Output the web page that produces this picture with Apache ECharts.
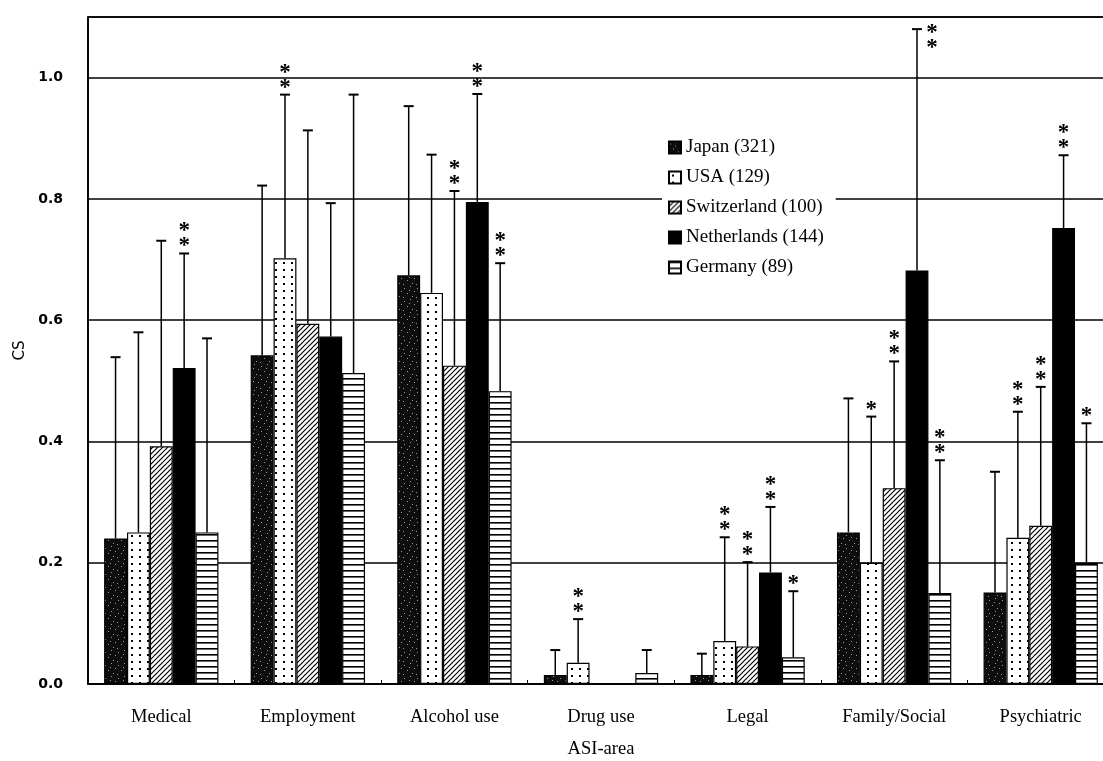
<!DOCTYPE html>
<html>
<head>
<meta charset="utf-8">
<script src="https://cdn.jsdelivr.net/npm/echarts@6/dist/echarts.min.js"></script>
<style>
  html, body { margin: 0; padding: 0; background: #fff; }
  #chart { width: 1103px; height: 761px; }
</style>
</head>
<body>
<div id="chart"></div>
<script>
// ---------------- data ----------------
const categories = ['Medical', 'Employment', 'Alcohol use', 'Drug use', 'Legal', 'Family/Social', 'Psychiatric'];
const seriesNames = ['Japan (321)', 'USA (129)', 'Switzerland (100)', 'Netherlands (144)', 'Germany (89)'];

const japanMean  = [0.240, 0.542, 0.674, 0.015, 0.015, 0.250, 0.151];
const japanUpper = [0.539, 0.822, 0.953, 0.056, 0.050, 0.471, 0.350];
const japanSig   = ['', '', '', '', '', '', ''];

const usaMean  = [0.250, 0.702, 0.645, 0.035, 0.071, 0.200, 0.241];
const usaUpper = [0.580, 0.972, 0.873, 0.107, 0.242, 0.441, 0.449];
const usaSig   = ['', '**', '', '**', '**', '*', '**'];

const swissMean  = [0.392, 0.594, 0.525, 0, 0.062, 0.323, 0.261];
const swissUpper = [0.731, 0.913, 0.813, null, 0.201, 0.532, 0.490];
const swissSig   = ['', '', '**', '', '**', '**', '**'];

const nethMean  = [0.521, 0.573, 0.795, 0, 0.184, 0.682, 0.752];
const nethUpper = [0.710, 0.793, 0.973, null, 0.292, 1.080, 0.872];
const nethSig   = ['**', '', '**', '', '**', '**', '**'];

const gerMean  = [0.250, 0.513, 0.483, 0.018, 0.044, 0.150, 0.200];
const gerUpper = [0.570, 0.972, 0.694, 0.056, 0.153, 0.369, 0.430];
const gerSig   = ['', '', '**', '', '*', '**', '*'];

const yTicks = [0, 0.2, 0.4, 0.6, 0.8, 1.0];

const means  = [japanMean, usaMean, swissMean, nethMean, gerMean];
const uppers = [japanUpper, usaUpper, swissUpper, nethUpper, gerUpper];
const sigs   = [japanSig, usaSig, swissSig, nethSig, gerSig];

// ---------------- patterns ----------------
function tile(w, h, draw) {
  const c = document.createElement('canvas');
  c.width = w; c.height = h;
  const ctx = c.getContext('2d');
  draw(ctx, w, h);
  return { image: c, repeat: 'repeat' };
}
const patJapan = tile(13, 13, (ctx, w, h) => {
  ctx.fillStyle = '#0d0d0d'; ctx.fillRect(0, 0, w, h);
  ctx.fillStyle = '#9a9a9a';
  const pts = [[1,2],[7,0],[11,5],[4,7],[9,10],[0,11],[6,4]];
  pts.forEach(p => ctx.fillRect(p[0], p[1], 1, 1));
});
const patUSA = tile(8, 7, (ctx, w, h) => {
  ctx.fillStyle = '#fff'; ctx.fillRect(0, 0, w, h);
  ctx.fillStyle = '#000'; ctx.fillRect(3, 3, 2, 2);
});
const patSwiss = tile(5, 5, (ctx, w, h) => {
  ctx.fillStyle = '#fff'; ctx.fillRect(0, 0, w, h);
  ctx.strokeStyle = '#000'; ctx.lineWidth = 1.2;
  ctx.beginPath();
  ctx.moveTo(-1, h + 1); ctx.lineTo(w + 1, -1);
  ctx.moveTo(-1, 1); ctx.lineTo(1, -1);
  ctx.moveTo(w - 1, h + 1); ctx.lineTo(w + 1, h - 1);
  ctx.stroke();
});
const patGer = tile(6, 6, (ctx, w, h) => {
  ctx.fillStyle = '#fff'; ctx.fillRect(0, 0, w, h);
  ctx.fillStyle = '#000'; ctx.fillRect(0, 0, w, 1.6);
});
const fills = [patJapan, patUSA, patSwiss, '#000', patGer];

// ---------------- layout constants ----------------
const BAR_FRAC = 0.156;
const SERIF = '"Liberation Serif", "Times New Roman", serif';

function errRenderer(si) {
  return function (params, api) {
    const i = params.dataIndex;
    const up = uppers[si][i];
    const mean = means[si][i];
    if (up == null) return null;
    const band = api.size([1, 0])[0];
    const bw = band * BAR_FRAC;
    const base = api.coord([i, mean]);
    const x = base[0] + (si - 2) * bw;
    const yTop = api.coord([i, up])[1];
    const children = [
      { type: 'line', shape: { x1: x, y1: base[1], x2: x, y2: yTop }, style: { stroke: '#000', lineWidth: 1.5 } },
      { type: 'line', shape: { x1: x - 5, y1: yTop, x2: x + 5, y2: yTop }, style: { stroke: '#000', lineWidth: 2 } }
    ];
    const s = sigs[si][i];
    const nearTop = up > 1.05;
    for (let k = 0; k < s.length; k++) {
      let sx, sy;
      if (nearTop) { sx = x + 15; sy = yTop + 4 + k * 15; }
      else { sx = x; sy = yTop - 7 - k * 15; }
      children.push({
        type: 'text',
        style: { text: '*', x: sx, y: sy, font: 'bold 23px ' + SERIF, fill: '#000', align: 'center', verticalAlign: 'middle' }
      });
    }
    return { type: 'group', children: children };
  };
}

const series = [];
seriesNames.forEach((name, si) => {
  series.push({
    name: name,
    type: 'bar',
    data: means[si],
    barWidth: (BAR_FRAC * 100) + '%',
    barGap: '0%',
    itemStyle: { color: fills[si], borderColor: '#000', borderWidth: 1.2 },
    emphasis: { disabled: true },
    z: 2
  });
});
seriesNames.forEach((name, si) => {
  series.push({
    name: name + ' err',
    type: 'custom',
    data: categories.map((c, i) => [i, means[si][i]]),
    renderItem: errRenderer(si),
    z: 5,
    silent: true
  });
});

const chart = echarts.init(document.getElementById('chart'), null, { renderer: 'canvas' });
chart.setOption({
  animation: false,
  backgroundColor: '#fff',
  grid: {
    left: 88, width: 1026, top: 17, bottom: 77,
    outerBoundsMode: 'none',
    containLabel: false,
    show: true, borderColor: '#000', borderWidth: 1.6, backgroundColor: 'transparent'
  },
  legend: {
    data: seriesNames,
    orient: 'vertical',
    left: 662, top: 130,
    padding: [8, 12, 8, 6],
    backgroundColor: '#fff',
    itemWidth: 12, itemHeight: 12,
    itemGap: 11,
    itemTextGap: 6,
    icon: 'rect',
    textStyle: { fontFamily: SERIF, fontSize: 19, color: '#000' },
    selectedMode: false
  },
  xAxis: {
    type: 'category',
    data: categories,
    name: 'ASI-area',
    nameLocation: 'middle',
    nameGap: 56,
    nameTextStyle: { fontFamily: SERIF, fontSize: 18.5, color: '#000' },
    axisLine: { lineStyle: { color: '#000', width: 1.6 } },
    axisTick: { show: true, inside: true, length: 4, lineStyle: { color: '#000' } },
    axisLabel: { fontFamily: SERIF, fontSize: 18.5, color: '#000', margin: 24 }
  },
  yAxis: {
    type: 'value',
    min: 0, max: 1.1, interval: 0.2,
    name: 'CS',
    nameLocation: 'middle',
    nameGap: 60,
    nameTextStyle: { fontFamily: '"DejaVu Sans", sans-serif', fontSize: 15, color: '#000' },
    axisLine: { show: true, lineStyle: { color: '#000', width: 1.6 } },
    axisTick: { show: false },
    splitLine: { show: true, lineStyle: { color: '#000', width: 1.5 } },
    axisLabel: {
      showMaxLabel: false,
      margin: 25,
      fontFamily: '"DejaVu Sans", sans-serif', fontWeight: 'bold', fontSize: 14, color: '#000',
      formatter: v => yTicks.some(t => Math.abs(t - v) < 1e-9) ? v.toFixed(1) : ''
    }
  },
  series: series
});
</script>
</body>
</html>
